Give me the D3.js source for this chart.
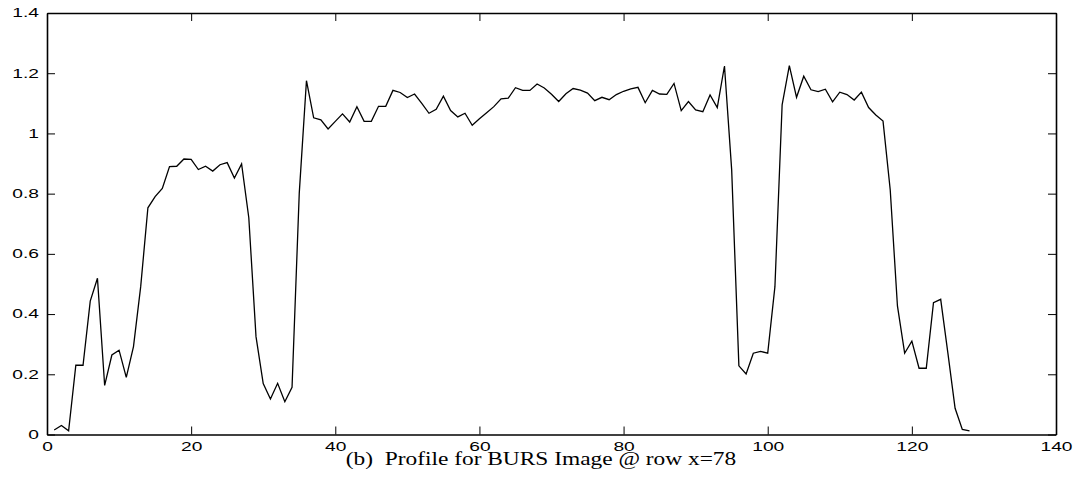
<!DOCTYPE html>
<html>
<head>
<meta charset="utf-8">
<script src="https://cdn.jsdelivr.net/npm/d3@7"></script>
<style>
  body { margin: 0; background: #fff; }
  .axis text { font-family: "Liberation Sans", Arial, sans-serif; font-size: 12px; fill: #000; }
  .axis path, .axis line { stroke: #000; }
</style>
</head>
<body>
<div id="chart"></div>
<script>

// profile values, row x=78 (pixel 1..128)
var profile = [
  0.015, 0.03, 0.012, 0.23, 0.23, 0.443, 0.519, 0.163, 0.264, 0.28,
  0.19, 0.292, 0.491, 0.753, 0.79, 0.817, 0.89, 0.891, 0.915, 0.914,
  0.88, 0.891, 0.875, 0.896, 0.903, 0.852, 0.899, 0.72, 0.325, 0.169,
  0.118, 0.17, 0.109, 0.157, 0.801, 1.175, 1.052, 1.045, 1.015, 1.04,
  1.065, 1.038, 1.089, 1.04, 1.04, 1.09, 1.09, 1.143, 1.136, 1.119,
  1.131, 1.1, 1.067, 1.08, 1.124, 1.076, 1.055, 1.067, 1.027, 1.049,
  1.069, 1.089, 1.115, 1.117, 1.152, 1.143, 1.143, 1.164, 1.151, 1.13,
  1.106, 1.132, 1.149, 1.144, 1.134, 1.109, 1.12, 1.112, 1.129, 1.14,
  1.148, 1.153, 1.102, 1.143, 1.131, 1.13, 1.166, 1.076, 1.106, 1.078,
  1.072, 1.128, 1.086, 1.224, 0.879, 0.228, 0.201, 0.27, 0.276, 0.27,
  0.491, 1.095, 1.225, 1.12, 1.19, 1.145, 1.139, 1.147, 1.105, 1.137,
  1.129, 1.111, 1.137, 1.086, 1.061, 1.041, 0.812, 0.427, 0.27, 0.31,
  0.22, 0.22, 0.438, 0.449, 0.27, 0.087, 0.017, 0.012
];

var xTicks = [0, 20, 40, 60, 80, 100, 120, 140];
var yTicks = [0, 0.2, 0.4, 0.6, 0.8, 1, 1.2, 1.4];
var title = '(b)  Profile for BURS Image @ row x=78';

var width = 1081, height = 490;
var margin = { top: 13, right: 25, bottom: 55.5, left: 47 };
var stretch = 1.6;
var titleStretch = 1.2;

var svg = d3.select('#chart').append('svg')
  .attr('width', width)
  .attr('height', height);

var x = d3.scaleLinear()
  .domain([0, 140])
  .range([margin.left, width - margin.right]);

var y = d3.scaleLinear()
  .domain([0, 1.4])
  .range([height - margin.bottom, margin.top]);

// Draw the axes, ticks pointing inward on all four sides
svg.append('g')
    .attr('class', 'axis')
    .attr('transform', 'translate(0,' + y(0) + ')')
    .call(d3.axisBottom(x).tickValues(xTicks).tickSize(-8).tickSizeOuter(0).tickPadding(8).tickFormat(d3.format('d')));

svg.append('g')
    .attr('class', 'axis')
    .attr('transform', 'translate(0,' + y(1.4) + ')')
    .call(d3.axisTop(x).tickValues(xTicks).tickSize(-8).tickSizeOuter(0).tickFormat(''));

svg.append('g')
    .attr('class', 'axis yaxis')
    .attr('transform', 'translate(' + x(0) + ',0)')
    .call(d3.axisLeft(y).tickValues(yTicks).tickSize(-8).tickSizeOuter(0).tickPadding(8).tickFormat(d3.format('~g')));

svg.append('g')
    .attr('class', 'axis')
    .attr('transform', 'translate(' + x(140) + ',0)')
    .call(d3.axisRight(y).tickValues(yTicks).tickSize(-8).tickSizeOuter(0).tickFormat(''));

svg.selectAll('.axis path').attr('stroke-width', 1.6);
svg.selectAll('.axis line').attr('stroke-width', 1);

// wide tick labels
svg.selectAll('.axis text')
    .attr('transform', 'scale(' + stretch + ',1)');
svg.selectAll('.yaxis text')
    .attr('x', -8 / stretch);

// Draw the profile line
var line = d3.line()
  .x(function (d, i) { return x(i + 1); })
  .y(function (d) { return y(d); });

svg.append('path')
    .datum(profile)
    .attr('d', line)
    .attr('fill', 'none')
    .attr('stroke', '#000')
    .attr('stroke-width', 1.3)
    .attr('stroke-linejoin', 'miter');

// Caption
svg.append('text')
    .attr('transform', 'scale(' + titleStretch + ',1)')
    .attr('x', 541 / titleStretch)
    .attr('y', 465)
    .attr('text-anchor', 'middle')
    .style('font-family', '"Liberation Serif", "Times New Roman", serif')
    .style('font-size', '19.5px')
    .style('white-space', 'pre')
    .attr('xml:space', 'preserve')
    .text(title);

</script>
</body>
</html>
